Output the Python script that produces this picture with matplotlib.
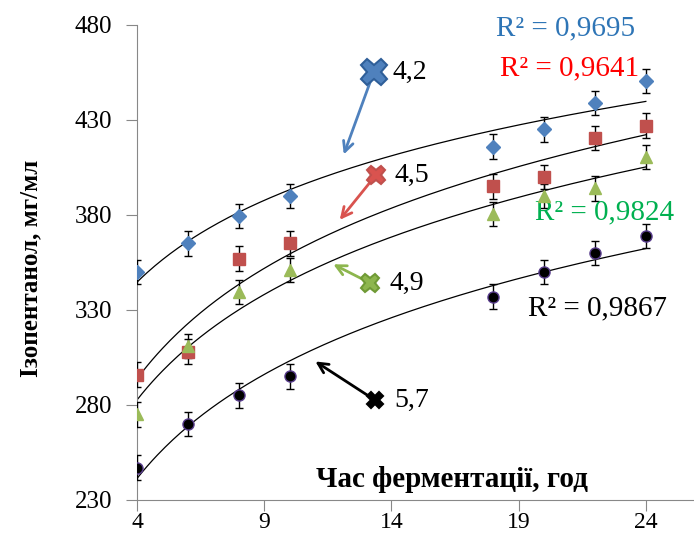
import numpy as np
import matplotlib.pyplot as plt

plt.rcParams['font.family'] = ['Liberation Serif', 'DejaVu Serif']

hours = [4, 6, 8, 10, 18, 20, 22, 24]
ph42 = [350, 365, 379.5, 390, 416, 425, 439, 450.5]
ph45 = [296, 308, 357, 365, 395, 400, 420.5, 427]
ph49 = [275, 311, 339.5, 351, 380.5, 390, 394, 410.5]
ph57 = [247, 270, 285, 295, 337, 350, 360, 369]
err = 6.5

r2_labels = ['R² = 0,9695', 'R² = 0,9641', 'R² = 0,9824', 'R² = 0,9867']
ph_labels = ['4,2', '4,5', '4,9', '5,7']

fig = plt.figure(figsize=(6.94, 5.36), dpi=100)
ax = fig.add_axes([0.1974, 0.0672, 0.9165, 0.8862])

series = [
    (ph42, 'D', '#4F81BD', '#4F81BD', 7),
    (ph45, 's', '#C0504D', '#C0504D', 8),
    (ph49, '^', '#9BBB59', '#9BBB59', 8),
    (ph57, 'o', 'black', '#5B3F8F', 8),
]

x = np.array(hours, dtype=float)
xs = np.linspace(4, 24, 200)
for vals, m, fc, ec, ms in series:
    y = np.array(vals)
    a, b = np.polyfit(np.log(x), y, 1)
    ax.plot(xs, a * np.log(xs) + b, color='black', lw=0.9, zorder=2)
    ax.errorbar(x, y, yerr=err, fmt='none', ecolor='black', elinewidth=1,
                capsize=3, capthick=1, zorder=3)
    ax.plot(x, y, m, color=fc, mec=ec, ms=ms, mew=1, zorder=4)

# arrows with pH labels
marks = [
    ((13.31, 455.3), (12.09, 410.5), '#4F81BD', '#2F5F99', 19),
    ((13.39, 401.0), (11.9, 376.3), '#D9534F', '#C0504D', 13),
    ((13.16, 344.2), (11.62, 354.7), '#8DB64E', '#6F9A35', 13),
    ((13.35, 282.6), (10.92, 303.7), 'black', 'black', 12),
]
for (start, tip, col, xcol, xs_), lab in zip(marks, ph_labels):
    ax.annotate('', xy=tip, xytext=start,
                arrowprops=dict(arrowstyle='->', color=col, lw=2,
                                mutation_scale=18))
    ax.plot(*start, 'X', color=col, mec=xcol, ms=xs_, mew=1.5, zorder=5)
    ax.text(start[0] + 0.75, start[1], lab, fontsize=20, va='center',
            ha='left')

r2_pos = [(20.86, 478.4), (21.0, 457.4), (22.39, 381.6), (22.1, 331)]
r2_col = ['#2E75B6', '#FF0000', '#00B050', 'black']
for lab, (px, py), c in zip(r2_labels, r2_pos, r2_col):
    ax.text(px, py, lab, color=c, fontsize=21, ha='center', va='center')

ax.text(16.4, 241, 'Час ферментації, год', fontsize=21, fontweight='bold',
        ha='center', va='center')
fig.text(0.045, 0.5, 'Ізопентанол, мг/мл', rotation=90, fontsize=18,
         fontweight='bold', ha='center', va='center')

ax.set_xlim(4, 29)
ax.set_ylim(230, 480)
ax.set_xticks([4, 9, 14, 19, 24])
ax.set_yticks([230, 280, 330, 380, 430, 480])
ax.tick_params(labelsize=18, color='#888888', length=8)
ax.tick_params(axis='y', pad=10)
ax.tick_params(axis='x', pad=1, labelsize=17)
for s in ['top', 'right']:
    ax.spines[s].set_visible(False)
for s in ['left', 'bottom']:
    ax.spines[s].set_color('#888888')

fig.savefig('out.png', dpi=100)
